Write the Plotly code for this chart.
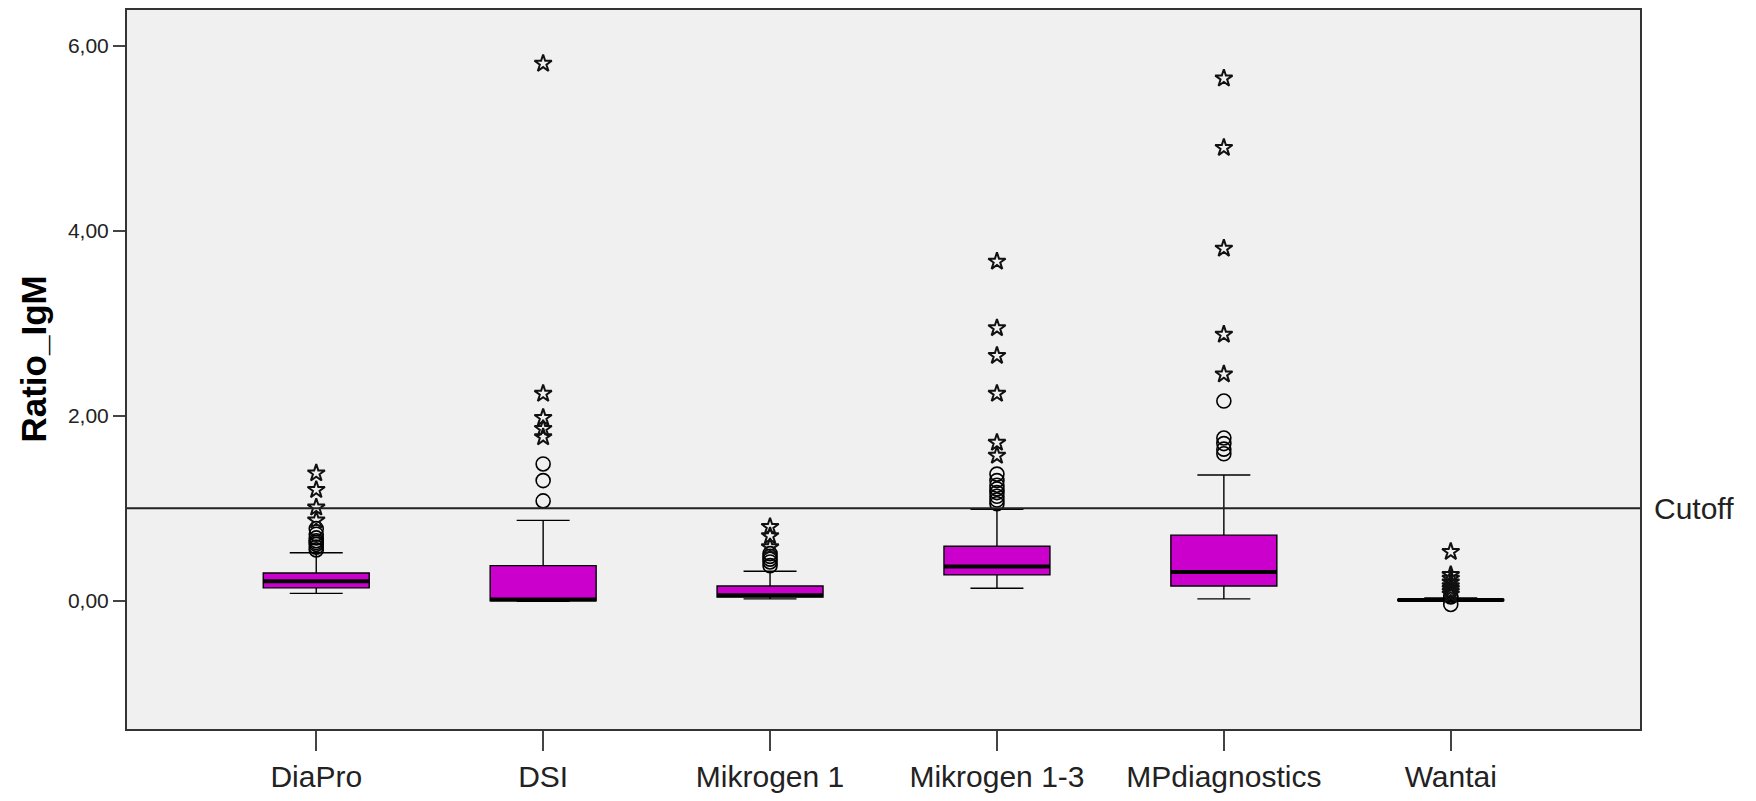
import plotly.graph_objects as go

categories = ["DiaPro", "DSI", "Mikrogen 1", "Mikrogen 1-3", "MPdiagnostics", "Wantai"]
q1 = [0.14, 0.000, 0.04, 0.28, 0.16, 0.003]
median = [0.21, 0.015, 0.06, 0.37, 0.31, 0.008]
q3 = [0.30, 0.38, 0.16, 0.59, 0.71, 0.015]
lower_whisker = [0.08, -0.005, 0.02, 0.135, 0.02, -0.002]
upper_whisker = [0.52, 0.87, 0.32, 0.99, 1.36, 0.03]

outliers_circle = [
    [0.55, 0.58, 0.61, 0.63, 0.65, 0.68, 0.72, 0.78],
    [1.08, 1.30, 1.48],
    [0.38, 0.42, 0.45, 0.48, 0.51],
    [1.05, 1.09, 1.13, 1.17, 1.21, 1.25, 1.30, 1.37],
    [1.59, 1.64, 1.70, 1.76, 2.16],
    [0.04, 0.05, -0.04],
]
outliers_star = [
    [0.87, 1.01, 1.20, 1.38],
    [1.77, 1.86, 1.98, 2.24, 5.81],
    [0.58, 0.70, 0.80],
    [1.57, 1.71, 2.24, 2.65, 2.95, 3.67],
    [2.45, 2.88, 3.81, 4.90, 5.65],
    [0.07, 0.10, 0.13, 0.16, 0.20, 0.24, 0.28, 0.53],
]
cutoff = 1.0
y_tick_vals = [0, 2, 4, 6]
y_tick_text = ["0,00", "2,00", "4,00", "6,00"]
y_title = "Ratio_IgM"
cutoff_label = "Cutoff"

BOX_W = 0.467
FILL = "#cc00cc"
FONT = "Liberation Sans, Arial, sans-serif"

fig = go.Figure()
pos = list(range(len(categories)))

fig.add_trace(go.Box(
    x=pos, q1=q1, median=median, q3=q3,
    lowerfence=lower_whisker, upperfence=upper_whisker,
    width=BOX_W, fillcolor=FILL, boxpoints=False,
    line=dict(color="black", width=1.4), whiskerwidth=0.5,
    showlegend=False, hoverinfo="skip",
))

# thick median lines
mx, my = [], []
for i, m in zip(pos, median):
    mx += [i - BOX_W / 2, i + BOX_W / 2, None]
    my += [m, m, None]
fig.add_trace(go.Scatter(x=mx, y=my, mode="lines",
                         line=dict(color="black", width=4),
                         showlegend=False, hoverinfo="skip"))

cx, cy, sx, sy = [], [], [], []
for i in pos:
    cx += [i] * len(outliers_circle[i]); cy += outliers_circle[i]
    sx += [i] * len(outliers_star[i]); sy += outliers_star[i]

fig.add_trace(go.Scatter(x=cx, y=cy, mode="markers",
                         marker=dict(symbol="circle-open", size=14, color="black", line=dict(width=1.6)),
                         showlegend=False, hoverinfo="skip"))
fig.add_trace(go.Scatter(x=sx, y=sy, mode="markers",
                         marker=dict(symbol="star-open", size=13, color="#111", line=dict(width=2)),
                         showlegend=False, hoverinfo="skip"))

fig.add_shape(type="line", xref="paper", x0=0, x1=1, yref="y", y0=cutoff, y1=cutoff,
              line=dict(color="#222", width=2))
fig.add_annotation(xref="paper", x=1, y=cutoff, yref="y", text=cutoff_label, showarrow=False,
                   xanchor="left", xshift=12, font=dict(family=FONT, size=30, color="#222"))
fig.add_annotation(xref="paper", x=-0.0621, yref="paper", y=0.5, yshift=10, text="<b>" + y_title + "</b>",
                   textangle=-90, showarrow=False, xanchor="center", yanchor="middle",
                   font=dict(family="Liberation Sans Narrow, Arial Narrow, " + FONT, size=35, color="black"))

fig.update_layout(
    width=1756, height=801,
    margin=dict(l=127, r=116, t=8, b=58),
    paper_bgcolor="white", plot_bgcolor="#f0f0f0",
    font=dict(family=FONT, color="#222"),
)
fig.update_xaxes(
    range=[-0.834, 5.834], tickvals=pos, ticktext=categories,
    showgrid=False, zeroline=False, showline=True, mirror=True,
    linecolor="#333", linewidth=2, ticks="outside", ticklen=20, tickwidth=2, tickcolor="#444",
    tickfont=dict(family=FONT, size=30, color="#222"),
)
fig.update_yaxes(
    range=[-1.387, 6.39], tickvals=y_tick_vals, ticktext=y_tick_text,
    showgrid=False, zeroline=False, showline=True, mirror=True,
    linecolor="#333", linewidth=2, ticks="outside", ticklen=12, tickwidth=1.5, tickcolor="#444",
    tickfont=dict(family=FONT, size=21, color="#222"),
)

fig.write_html("out.html")
